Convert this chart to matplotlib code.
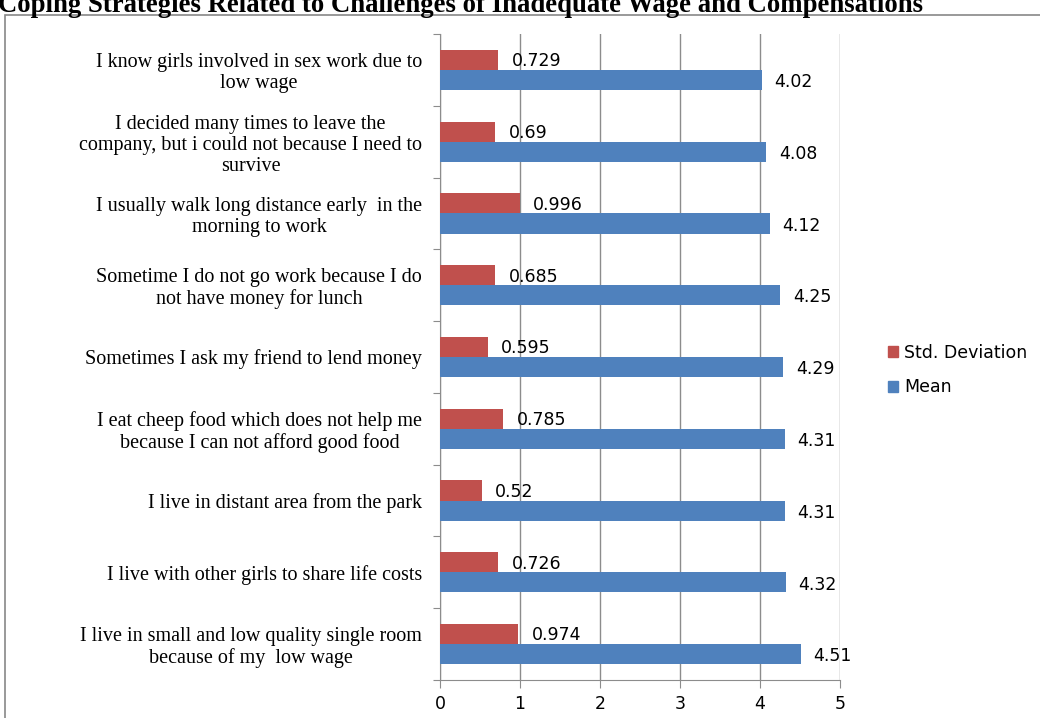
import matplotlib
matplotlib.use("Agg")
import matplotlib.pyplot as plt
from matplotlib.patches import Rectangle, Patch
import numpy as np

# data, top to bottom as shown in the chart
labels = [
    "I know girls involved in sex work due to\nlow wage",
    "I decided many times to leave the\ncompany, but i could not because I need to\nsurvive",
    "I usually walk long distance early  in the\nmorning to work",
    "Sometime I do not go work because I do\nnot have money for lunch",
    "Sometimes I ask my friend to lend money",
    "I eat cheep food which does not help me\nbecause I can not afford good food",
    "I live in distant area from the park",
    "I live with other girls to share life costs",
    "I live in small and low quality single room\nbecause of my  low wage",
]
std_dev = [0.729, 0.69, 0.996, 0.685, 0.595, 0.785, 0.52, 0.726, 0.974]
mean = [4.02, 4.08, 4.12, 4.25, 4.29, 4.31, 4.31, 4.32, 4.51]
std_txt = ["0.729", "0.69", "0.996", "0.685", "0.595", "0.785", "0.52", "0.726", "0.974"]
mean_txt = ["4.02", "4.08", "4.12", "4.25", "4.29", "4.31", "4.31", "4.32", "4.51"]
xticks = [0, 1, 2, 3, 4, 5]

red = "#C0504D"
blue = "#4F81BD"
grid = "#8C8C8C"
sans = "DejaVu Sans"
serif = "Liberation Serif"

fig = plt.figure(figsize=(10.4, 7.18), dpi=100)

# outer chart frame (runs off the canvas on right and bottom)
fig.patches.append(Rectangle((5 / 1040, -0.05), 1.2, (718 - 15) / 718 + 0.05,
                             transform=fig.transFigure, fill=False,
                             edgecolor="#888888", linewidth=1.2))

fig.text(-0.002, 1 - 12 / 718, "Coping Strategies Related to Challenges of Inadequate Wage and Compensations",
         fontsize=19.3, fontweight="bold", family=serif, ha="left", va="baseline")

ax = fig.add_axes([440 / 1040, 38 / 718, 400 / 1040, 646 / 718])

n = len(labels)
pos = np.arange(n)[::-1]  # first label at the top
h = 0.28
ax.barh(pos + h / 2, std_dev, height=h, color=red, label="Std. Deviation", zorder=3)
ax.barh(pos - h / 2, mean, height=h, color=blue, label="Mean", zorder=3)

for p, v, t in zip(pos, std_dev, std_txt):
    ax.text(v + 0.17, p + h / 2 - 0.02, t, va="center", ha="left", fontsize=12.5, family=sans)
for p, v, t in zip(pos, mean, mean_txt):
    ax.text(v + 0.16, p - h / 2 - 0.03, t, va="center", ha="left", fontsize=12.5, family=sans)

ax.set_xlim(0, 5)
ax.set_ylim(-0.5, n - 0.5)
ax.set_xticks(xticks)
ax.set_xticklabels([str(x) for x in xticks], fontsize=12.5, family=sans)
ax.grid(axis="x", color=grid, linewidth=1, zorder=0)

ax.set_yticks(np.arange(-0.5, n, 1.0))
ax.set_yticklabels([])
ax.set_yticks(pos, minor=True)
ax.set_yticklabels(labels, minor=True, fontsize=14.5, family=serif,
                   multialignment="center", linespacing=1.15)
ax.tick_params(axis="y", which="major", length=5, color=grid, direction="out")
ax.tick_params(axis="y", which="minor", length=0, pad=13)
ax.tick_params(axis="x", length=6, color=grid, direction="out", pad=5)

for s in ["top", "right"]:
    ax.spines[s].set_visible(False)
ax.spines["left"].set_color(grid)
ax.spines["bottom"].set_color(grid)

handles = [Patch(color=red), Patch(color=blue)]
fig.legend(handles, ["Std. Deviation", "Mean"], loc="center left",
           bbox_to_anchor=(872 / 1040, 1 - 370 / 718), frameon=False,
           prop={"family": sans, "size": 12.5}, handlelength=0.6, handleheight=0.6,
           handletextpad=0.35, labelspacing=0.95)

fig.savefig("out.png", dpi=100)
